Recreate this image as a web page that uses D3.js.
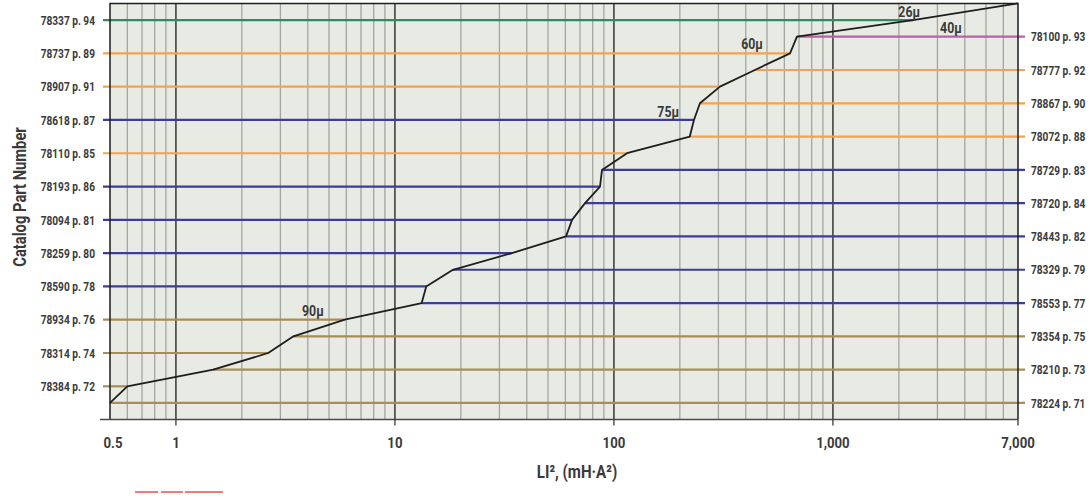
<!DOCTYPE html>
<html>
<head>
<meta charset="utf-8">
<script src="https://cdn.jsdelivr.net/npm/d3@7"></script>
<style>
  body { margin: 0; background: #ffffff; }
  text {
    font-family: Roboto, "Liberation Sans", sans-serif;
    font-weight: bold;
    fill: #3a3a3a;
  }
</style>
</head>
<body>
<svg id="chart" width="1090" height="498"></svg>
<script>
// Catalog parts, listed from the bottom row to the top row
const partNumbers = ["78224", "78384", "78210", "78314", "78354", "78934", "78553", "78590",
  "78329", "78259", "78443", "78094", "78720", "78193", "78729", "78110",
  "78072", "78618", "78867", "78907", "78777", "78737", "78100", "78337"];
const catalogPages = [71, 72, 73, 74, 75, 76, 77, 78, 79, 80, 82, 81, 84, 86, 83, 85,
  88, 87, 90, 91, 92, 89, 93, 94];
// Which side of the chart each part is labelled on
const labelSide = ["right", "left", "right", "left", "right", "left", "right", "left",
  "right", "left", "right", "left", "right", "left", "right", "left",
  "right", "left", "right", "left", "right", "left", "right", "left"];
// Product family of each part (sets the line colour)
const partFamily = ["tan", "tan", "tan", "tan", "tan", "tan", "blue", "blue",
  "blue", "blue", "blue", "blue", "blue", "blue", "blue", "orange",
  "orange", "blue", "orange", "orange", "orange", "orange", "magenta", "green"];
// LI² (mH·A²) at which each part's rating meets the selection curve
const li2Limit = [0.5, 0.6, 1.48, 2.64, 3.44, 5.9, 13.25, 13.9, 18.4, 34.2, 60.4, 64.4,
  73.8, 86.4, 88.2, 114.8, 222, 232, 247, 305, 440, 637, 685, 2321];
const li2Max = 7000;

// Core thickness annotations along the curve
const micronLabels = ["26μ", "40μ", "60μ", "75μ", "90μ"];
const micronLI2 = [2230, 3460, 427, 177, 4.22];
const micronLevel = [24.18, 23.2, 22.25, 18.17, 6.22];

// X axis ticks
const xTickValues = [0.5, 1, 10, 100, 1000, 7000];
const xTickLabels = ["0.5", "1", "10", "100", "1,000", "7,000"];

const familyColor = {
  tan: "#a98d59",
  blue: "#3c3d9a",
  orange: "#f6a24a",
  magenta: "#b862a6",
  green: "#338a5f"
};

const svg = d3.select("#chart");
const plot = { left: 110, right: 1018, top: 3.4, bottom: 419.6 };

const x = d3.scaleLog().domain([0.5, li2Max]).range([plot.left, plot.right]);
const y = d3.scaleLinear().domain([0, partNumbers.length + 1]).range([plot.bottom, plot.top]);

const rows = partNumbers.map((p, i) => ({
  part: p,
  page: catalogPages[i],
  side: labelSide[i],
  color: familyColor[partFamily[i]],
  limit: li2Limit[i],
  level: i + 1
}));

// narrow lettering: position each text and squeeze it horizontally
function place(sel, fx, fy, sx) {
  sel.attr("transform", (d, i) => `translate(${fx(d, i)},${fy(d, i)}) scale(${sx},1)`);
}

// plot background
svg.append("rect")
  .attr("x", plot.left).attr("y", plot.top)
  .attr("width", plot.right - plot.left).attr("height", plot.bottom - plot.top)
  .attr("fill", "#e8ebe4");

// logarithmic grid
const gridMinor = [];
const gridMajor = [];
[0.1, 1, 10, 100, 1000].forEach(d => {
  for (let k = 1; k <= 9; k++) {
    const v = +(k * d).toPrecision(6);
    if (v > 0.5 && v < li2Max) (k === 1 ? gridMajor : gridMinor).push(v);
  }
});
svg.append("g").selectAll("line").data(gridMinor).join("line")
  .attr("x1", d => x(d)).attr("x2", d => x(d))
  .attr("y1", plot.top).attr("y2", plot.bottom)
  .attr("stroke", "#a3a5a1").attr("stroke-width", 1.3);
svg.append("g").selectAll("line").data(gridMajor).join("line")
  .attr("x1", d => x(d)).attr("x2", d => x(d))
  .attr("y1", plot.top).attr("y2", plot.bottom)
  .attr("stroke", "#2a2a2a").attr("stroke-width", 1.4);

// part rating lines
svg.append("g").selectAll("line").data(rows).join("line")
  .attr("x1", d => d.side === "left" ? plot.left - 7 : x(d.limit))
  .attr("x2", d => d.side === "left" ? x(d.limit) : plot.right + 7)
  .attr("y1", d => y(d.level)).attr("y2", d => y(d.level))
  .attr("stroke", d => d.color).attr("stroke-width", 2.2);

// selection curve
const curvePts = rows.map(d => [d.limit, d.level]).concat([[li2Max, partNumbers.length + 1]]);
svg.append("path")
  .attr("d", d3.line().x(d => x(d[0])).y(d => y(d[1]))(curvePts))
  .attr("fill", "none").attr("stroke", "#1e1e1e").attr("stroke-width", 1.8)
  .attr("stroke-linejoin", "round");

// frame
svg.append("path")
  .attr("d", `M${plot.left},${plot.bottom}V${plot.top}H${plot.right}V${plot.bottom}`)
  .attr("fill", "none").attr("stroke", "#1e1e1e").attr("stroke-width", 1.5);
svg.append("line")
  .attr("x1", plot.left - 10).attr("x2", plot.right)
  .attr("y1", plot.bottom).attr("y2", plot.bottom)
  .attr("stroke", "#4a4a4a").attr("stroke-width", 1.5);

// x ticks
const xAxis = svg.append("g");
xAxis.selectAll("line").data(xTickValues.slice(1)).join("line")
  .attr("x1", d => x(d)).attr("x2", d => x(d))
  .attr("y1", plot.bottom).attr("y2", plot.bottom + 6)
  .attr("stroke", "#3a3a3a").attr("stroke-width", 1.3);
xAxis.selectAll("text").data(xTickValues).join("text")
  .attr("text-anchor", "middle").attr("font-size", 15)
  .text((d, i) => xTickLabels[i])
  .call(place, (d, i) => x(d) + (i === 0 ? 3 : 0), () => plot.bottom + 28, 0.88);

// part labels
svg.append("g").selectAll("text").data(rows).join("text")
  .attr("dy", "0.36em")
  .attr("text-anchor", d => d.side === "left" ? "end" : "start")
  .attr("font-size", 13)
  .text(d => `${d.part} p. ${d.page}`)
  .call(place, d => d.side === "left" ? plot.left - 15 : plot.right + 13, d => y(d.level), 0.78);

// micron annotations
svg.append("g").selectAll("text").data(micronLabels).join("text")
  .attr("text-anchor", "middle").attr("font-size", 14)
  .text(d => d)
  .call(place, (d, i) => x(micronLI2[i]), (d, i) => y(micronLevel[i]), 0.88);

// axis titles
svg.append("text")
  .attr("transform", "translate(26,197) rotate(-90) scale(0.82,1)")
  .attr("text-anchor", "middle").attr("font-size", 18)
  .text("Catalog Part Number");
svg.append("text")
  .attr("text-anchor", "middle").attr("font-size", 18)
  .text("LI², (mH·A²)")
  .call(place, () => 577, () => 478, 0.84);

// proofing marks along the lower edge
svg.append("g").selectAll("rect").data([[135, 158], [161, 183], [185, 223]]).join("rect")
  .attr("x", d => d[0]).attr("width", d => d[1] - d[0])
  .attr("y", 491).attr("height", 2)
  .attr("fill", "#f47a7a");
</script>
</body>
</html>
